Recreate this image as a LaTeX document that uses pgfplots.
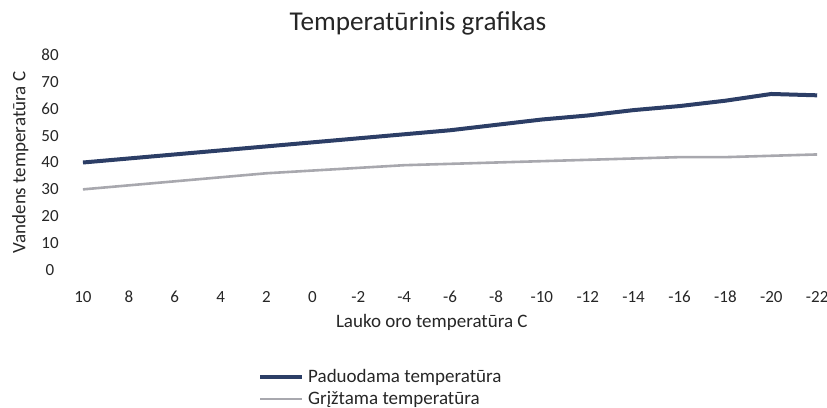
\documentclass[border=0pt]{standalone}
\usepackage{pgfplots}
\pgfplotsset{compat=1.18}
\usepackage{fontspec}
\setmainfont{Carlito}
\definecolor{supply}{RGB}{44,62,102}
\definecolor{ret}{RGB}{168,168,174}
\begin{document}
\begin{tikzpicture}
\path[use as bounding box] (0,0) rectangle (413.5pt,204pt);
\begin{axis}[
  at={(30pt,69pt)}, anchor=south west,
  scale only axis, width=382.5pt, height=107.5pt,
  xmin=-0.5, xmax=16.17, ymin=0, ymax=80,
  xtick={0,...,16},
  xticklabels={10,8,6,4,2,0,-2,-4,-6,-8,-10,-12,-14,-16,-18,-20,-22},
  ytick={0,10,...,80},
  axis line style={draw=none}, tick style={draw=none},
  /pgf/number format/assume math mode=true,
  xticklabel style={anchor=center, yshift=-13.5pt, font=\fontsize{8.5}{10}\selectfont, text=black!85},
  yticklabel style={anchor=center, xshift=-5pt, font=\fontsize{8.5}{10}\selectfont, text=black!85},
  title={Temperatūrinis grafikas},
  title style={at={(0.468,1.145)}, anchor=center, yshift=-6pt, font=\fontsize{13.6}{16}\selectfont, text=black!85},
  xlabel={Lauko oro temperatūra C},
  xlabel style={at={(0.486,-0.242)}, anchor=center, font=\fontsize{9.5}{11}\selectfont, text=black!85},
  ylabel={Vandens temperatūra C},
  ylabel style={at={(-0.052,0.5)}, anchor=center, font=\fontsize{9.5}{11}\selectfont, text=black!85},
  legend style={at={(0.256,-0.43)}, anchor=north west, draw=none, fill=none,
    font=\fontsize{9.5}{11}\selectfont, text=black!85, row sep=-1pt, inner sep=1pt},
  legend cell align=left,
  legend image code/.code={\draw[#1] (0pt,0pt) -- (21pt,0pt);},
]
\addplot[supply, line width=2pt] coordinates {
(0,40) (1,41.5) (2,43) (3,44.5) (4,46) (5,47.5) (6,49) (7,50.5) (8,52)
(9,54) (10,56) (11,57.5) (12,59.5) (13,61) (14,63) (15,65.5) (16,65)};
\addlegendentry{Paduodama temperatūra}
\addplot[ret, line width=1.3pt] coordinates {
(0,30) (1,31.5) (2,33) (3,34.5) (4,36) (5,37) (6,38) (7,39) (8,39.5)
(9,40) (10,40.5) (11,41) (12,41.5) (13,42) (14,42) (15,42.5) (16,43)};
\addlegendentry{Grįžtama temperatūra}
\end{axis}
\end{tikzpicture}
\end{document}
